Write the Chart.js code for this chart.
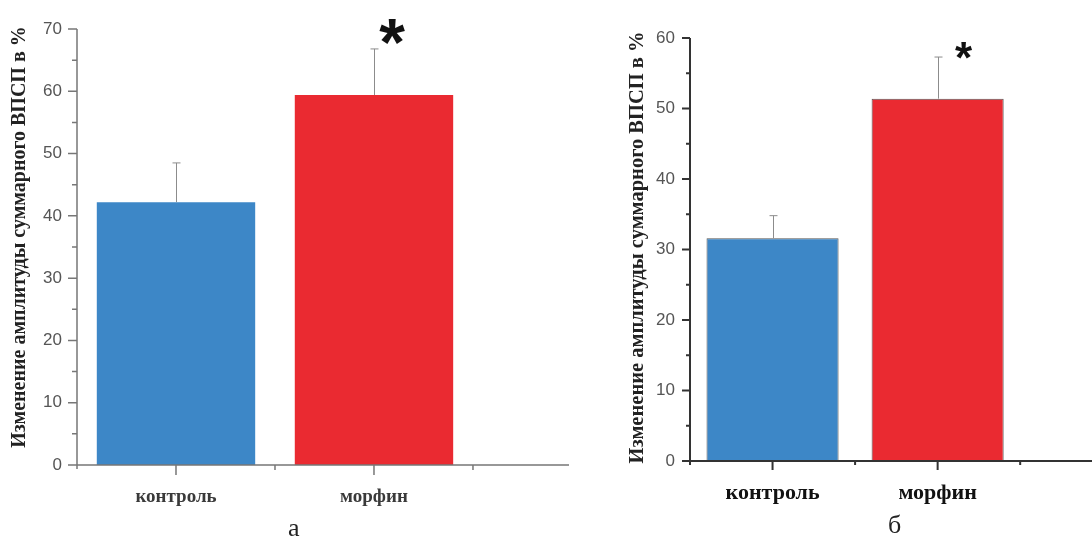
<!DOCTYPE html>
<html>
<head>
<meta charset="utf-8">
<script src="https://cdn.jsdelivr.net/npm/chart.js@4.4.1/dist/chart.umd.min.js"></script>
<style>
  html, body { margin: 0; padding: 0; background: #fff; }
  body { width: 1092px; height: 537px; position: relative; overflow: hidden; }
  .box { position: absolute; top: 0; height: 537px; }
  .letter { position: absolute; font: 26px "Liberation Serif", "Times New Roman", serif; color: #222; line-height: 26px; }
</style>
</head>
<body>
<div class="box" style="left:0;width:590px"><canvas id="chartA"></canvas></div>
<div class="box" style="left:600px;width:492px"><canvas id="chartB"></canvas></div>
<div class="letter" style="left:288px;top:515px">а</div>
<div class="letter" style="left:888px;top:512px">б</div>

<script>
const categories = ['контроль', 'морфин'];
const positions = [1, 3];           // where the bars sit on the x axis
const significant = [false, true];  // asterisk over the bar

// panel а
const valuesA = [42.2, 59.4];
const errorsA = [6.3, 7.4];
const yMaxA = 70;

// panel б
const valuesB = [31.6, 51.4];
const errorsB = [3.2, 5.9];
const yMaxB = 60;

const yTitle = 'Изменение амплитуды суммарного ВПСП в %';
const blue = '#3d87c7';
const red = '#ea2a31';

// axes, tick marks, error bars, asterisks and the y title
const decor = {
  id: 'decor',
  afterDatasetsDraw(chart, args, o) {
    const { ctx, chartArea: a, scales: { x, y } } = chart;
    const meta = chart.getDatasetMeta(0);
    ctx.save();

    // error bars (upper half only)
    ctx.strokeStyle = '#8c8c8c';
    ctx.lineWidth = 1;
    ctx.beginPath();
    o.errors.forEach((e, i) => {
      const px = Math.round(meta.data[i].x) + 0.5;
      const top = y.getPixelForValue(o.values[i] + e);
      ctx.moveTo(px, meta.data[i].y);
      ctx.lineTo(px, top);
      ctx.moveTo(px - 4, top);
      ctx.lineTo(px + 4, top);
    });
    ctx.stroke();

    // asterisks
    ctx.fillStyle = '#111';
    ctx.font = 'bold ' + o.starSize + 'px "Liberation Sans", Arial, sans-serif';
    ctx.textAlign = 'center';
    ctx.textBaseline = 'alphabetic';
    significant.forEach((s, i) => {
      if (!s) return;
      const top = y.getPixelForValue(o.values[i] + o.errors[i]);
      ctx.fillText('*', meta.data[i].x + o.starDx, top + o.starDy + 0.55 * o.starSize);
    });

    // axis lines and ticks
    ctx.strokeStyle = o.axisColor;
    ctx.lineWidth = o.axisWidth;
    ctx.beginPath();
    ctx.moveTo(a.left, a.top);
    ctx.lineTo(a.left, a.bottom + 4);
    ctx.moveTo(a.left - 2, a.bottom);
    ctx.lineTo(a.right, a.bottom);
    y.ticks.forEach(t => {
      const py = y.getPixelForValue(t.value);
      const len = t.value % 10 === 0 ? o.major : o.minor;
      ctx.moveTo(a.left - len, py);
      ctx.lineTo(a.left, py);
    });
    x.ticks.forEach(t => {
      if (t.value === 0) return;
      const px = x.getPixelForValue(t.value);
      const len = positions.includes(t.value) ? o.major + 1 : o.minor;
      ctx.moveTo(px, a.bottom);
      ctx.lineTo(px, a.bottom + len);
    });
    ctx.stroke();

    // rotated y title
    ctx.translate(o.titleX, (a.top + a.bottom) / 2 + o.titleShift);
    ctx.rotate(-Math.PI / 2);
    ctx.fillStyle = '#222';
    ctx.font = 'bold ' + o.titleSize + 'px "Liberation Serif", "Times New Roman", serif';
    ctx.textAlign = 'center';
    ctx.textBaseline = 'middle';
    ctx.fillText(yTitle, 0, 0);
    ctx.restore();
  }
};

function makeChart(id, p) {
  return new Chart(document.getElementById(id), {
    type: 'bar',
    data: {
      datasets: [{
        data: positions.map((x, i) => ({ x: x, y: p.values[i] })),
        backgroundColor: [blue, red],
        borderColor: p.barBorder,
        borderWidth: p.barBorder ? 1 : 0,
        categoryPercentage: 1.6,
        barPercentage: 1
      }]
    },
    options: {
      responsive: true,
      maintainAspectRatio: false,
      animation: false,
      events: [],
      layout: { padding: { left: 0, top: p.top, right: p.right, bottom: 0 } },
      plugins: {
        legend: { display: false },
        tooltip: { enabled: false },
        decor: p.decor
      },
      scales: {
        x: {
          type: 'linear',
          min: 0,
          max: p.xMax,
          offset: false,
          grid: { display: false, drawTicks: false },
          border: { display: false },
          afterFit: s => { s.height = p.xHeight; },
          ticks: {
            stepSize: 1,
            includeBounds: false,
            autoSkip: false,
            maxRotation: 0,
            padding: p.xPad,
            color: p.xColor,
            font: { family: '"Liberation Serif", "Times New Roman", serif', size: p.xSize, weight: 'bold' },
            callback: v => {
              const i = positions.indexOf(v);
              return i >= 0 ? categories[i] : '';
            }
          }
        },
        y: {
          min: 0,
          max: p.yMax,
          grid: { display: false, drawTicks: false },
          border: { display: false },
          afterFit: s => { s.width = p.yWidth; },
          ticks: {
            stepSize: 5,
            padding: 15,
            color: '#555',
            font: { family: '"Liberation Sans", Arial, sans-serif', size: 17 },
            callback: v => (v % 10 === 0 ? v : '')
          }
        }
      }
    },
    plugins: [decor]
  });
}

makeChart('chartA', {
  values: valuesA, yMax: yMaxA, xMax: 4.97,
  top: 29, right: 590 - 569, xHeight: 537 - 465, yWidth: 77,
  xPad: 21, xSize: 19, xColor: '#3a3a3a',
  barBorder: null,
  decor: {
    values: valuesA, errors: errorsA, axisColor: '#777', axisWidth: 1.5, major: 9, minor: 5,
    starSize: 66, starDx: 18, starDy: -20,
    titleX: 20, titleShift: -10, titleSize: 20
  }
});

makeChart('chartB', {
  values: valuesB, yMax: yMaxB, xMax: 4.87,
  top: 38, right: 0, xHeight: 537 - 461, yWidth: 90,
  xPad: 19, xSize: 22, xColor: '#111',
  barBorder: '#555',
  decor: {
    values: valuesB, errors: errorsB, axisColor: '#333', axisWidth: 2, major: 8, minor: 4,
    starSize: 44, starDx: 26, starDy: -8,
    titleX: 38, titleShift: -2, titleSize: 20.5
  }
});
</script>
</body>
</html>
